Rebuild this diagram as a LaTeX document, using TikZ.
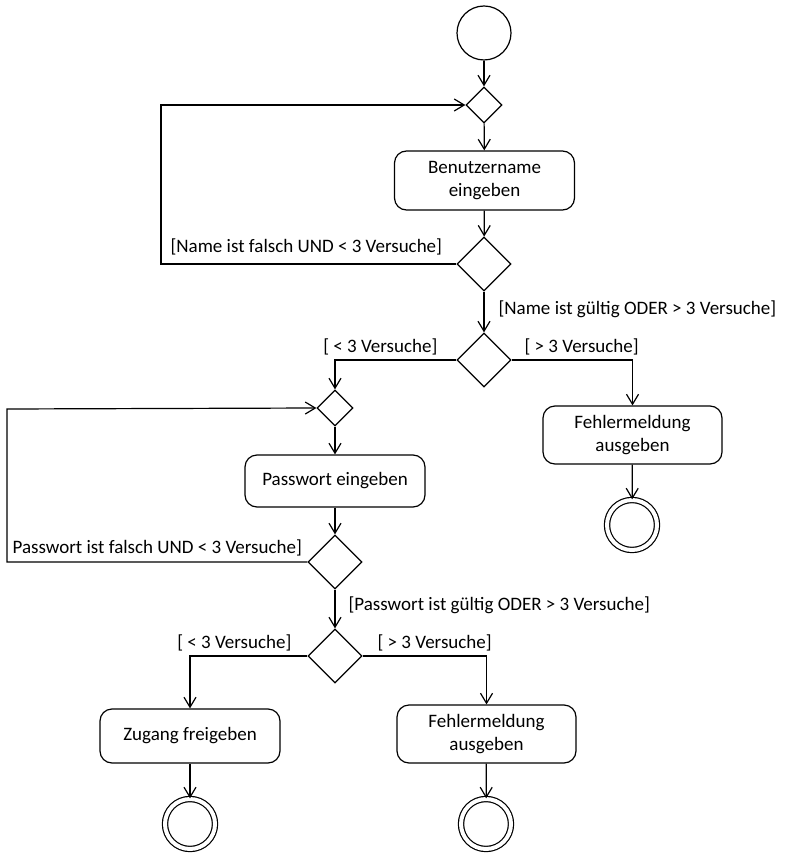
\documentclass[tikz,border=0pt]{standalone}
\usepackage{fontspec}
\setmainfont{Carlito}
\usetikzlibrary{arrows.meta,shapes.geometric}
\begin{document}
\begin{tikzpicture}[x=1pt,y=-1pt,
  line width=1.2pt,
  flow/.style={-{Straight Barb[length=10pt,width=12pt,line width=1.2pt]}},
  action/.style={draw,rounded corners=12pt,minimum width=180pt,align=center,font=\fontsize{19}{23}\selectfont},
  decision/.style={draw,diamond,inner sep=0pt,minimum width=54pt,minimum height=54pt},
  merge/.style={draw,diamond,inner sep=0pt,minimum width=36pt,minimum height=36pt},
  startnode/.style={draw,circle,inner sep=0pt,minimum size=54pt},
  endnode/.style={draw,circle,double,double distance=4pt,inner sep=0pt,minimum size=50pt},
  guard/.style={inner sep=0pt,font=\fontsize{19}{23}\selectfont}]
\useasboundingbox (0,0) rectangle (784,858);

% nodes
\node[startnode] (start) at (484,33) {};
\node[merge] (m1) at (484,105) {};
\node[action,minimum height=59pt] (user) at (484.5,180.5) {Benutzername\\eingeben};
\node[decision] (d1) at (484,264) {};
\node[decision] (d2) at (484,360) {};
\node[action,minimum width=179pt,minimum height=58pt] (err1) at (632.5,435) {Fehlermeldung\\ausgeben};
\node[endnode] (end1) at (632,525) {};
\node[merge] (m2) at (335,408) {};
\node[action,minimum height=52pt] (pw) at (335,481) {Passwort eingeben};
\node[decision] (d3) at (335,562) {};
\node[decision] (d4) at (335,656) {};
\node[action,minimum height=54pt] (ok) at (190,736) {Zugang freigeben};
\node[action,minimum width=179pt,minimum height=58pt] (err2) at (486.5,734) {Fehlermeldung\\ausgeben};
\node[endnode] (end2) at (190,824) {};
\node[endnode] (end3) at (486,824) {};

% corner points of the loops and branches
\coordinate (c1) at (161,264);
\coordinate (c2) at (161,105);
\coordinate (c3) at (7,562);
\coordinate (c4) at (7,409);

% connectors
\draw[flow] (start) -- (m1);
\draw[flow] (m1) -- (user);
\draw[flow] (user) -- (d1);
\draw[flow] (d1.west) -- (c1) -- (c2) -- (m1.west);
\draw[flow] (d1) -- (d2);
\draw[flow] (d2.west) -| (m2.north);
\draw[flow] (d2.east) -| (err1.north);
\draw[flow] (err1) -- (end1);
\draw[flow] (m2) -- (pw);
\draw[flow] (pw) -- (d3);
\draw[flow] (d3.west) -- (c3) -- (c4) -- (m2.west);
\draw[flow] (d3) -- (d4);
\draw[flow] (d4.west) -| (ok.north);
\draw[flow] (d4.east) -| (err2.north);
\draw[flow] (ok) -- (end2);
\draw[flow] (err2) -- (end3);

% guard labels
\node[guard,anchor=base west] (g1) at (170,253) {[Name ist falsch UND < 3 Versuche]};
\node[guard,anchor=base west] (g2) at (498,314) {[Name ist gültig ODER > 3 Versuche]};
\node[guard,anchor=base east] (g3) at (438,352) {[ < 3 Versuche]};
\node[guard,anchor=base west] (g4) at (524,352) {[ > 3 Versuche]};
\node[guard,anchor=base west] (g5) at (12,553) {Passwort ist falsch UND < 3 Versuche]};
\node[guard,anchor=base west] (g6) at (348,610) {[Passwort ist gültig ODER > 3 Versuche]};
\node[guard,anchor=base east] (g7) at (292,648) {[ < 3 Versuche]};
\node[guard,anchor=base west] (g8) at (377,648) {[ > 3 Versuche]};
\end{tikzpicture}
\end{document}
